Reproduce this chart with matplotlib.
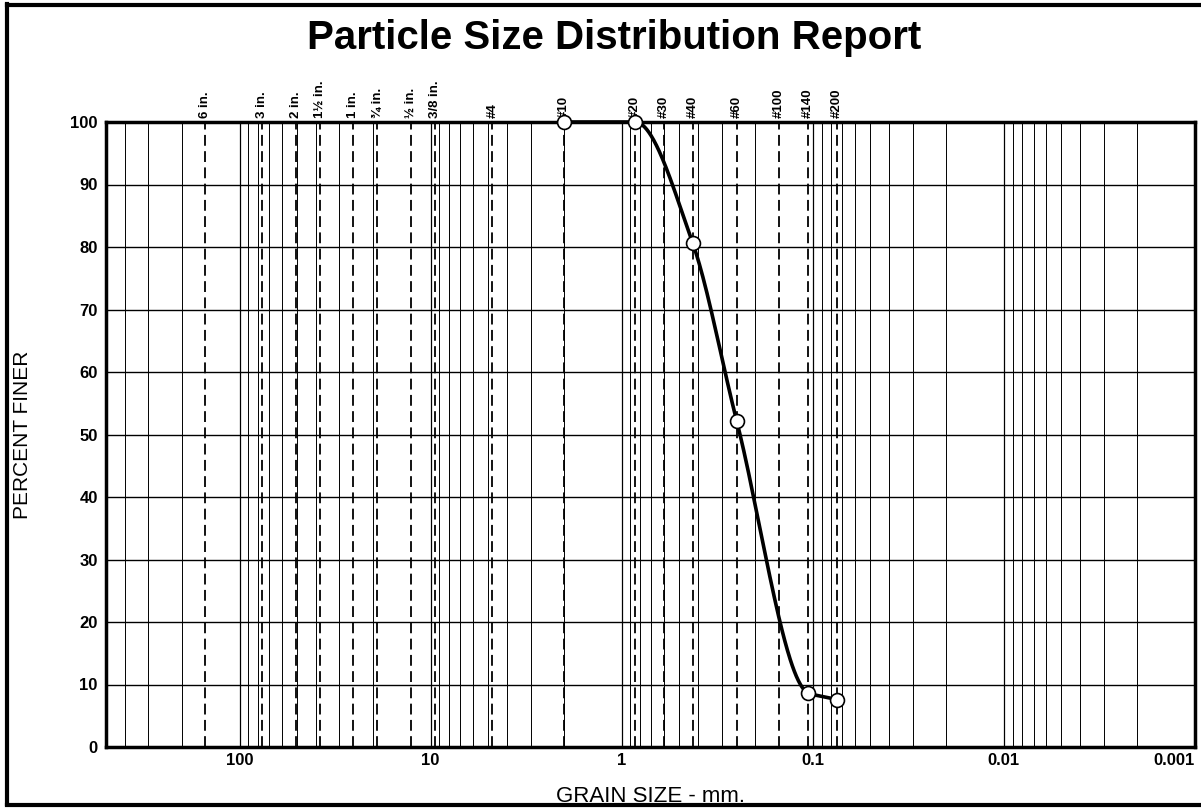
import numpy as np
import matplotlib
matplotlib.use("Agg")
import matplotlib.pyplot as plt
from matplotlib.transforms import blended_transform_factory
from matplotlib.lines import Line2D

plt.rcParams['font.family'] = ['Liberation Sans', 'DejaVu Sans']

# sieve openings (mm) and their names along the top
sieve_names = ['6 in.', '3 in.', '2 in.', '1½ in.', '1 in.', '¾ in.', '½ in.', '3/8 in.',
               '#4', '#10', '#20', '#30', '#40', '#60', '#100', '#140', '#200']
sieve_mm = [152.4, 76.2, 50.8, 38.1, 25.4, 19.05, 12.7, 9.525,
            4.75, 2.0, 0.85, 0.6, 0.425, 0.25, 0.15, 0.106, 0.075]

# test results
grain_mm = [2.0, 0.85, 0.425, 0.25, 0.106, 0.075]
pct_finer = [100.0, 100.0, 80.6, 52.1, 8.7, 7.6]

x_ticks = [100, 10, 1, 0.1, 0.01, 0.001]
x_ticklabels = ['100', '10', '1', '0.1', '0.01', '0.001']
y_ticks = list(range(0, 101, 10))


def pchip(xk, yk, xs):
    # monotone cubic (Fritsch-Carlson) for the smooth gradation curve
    xk = np.asarray(xk, float); yk = np.asarray(yk, float)
    h = np.diff(xk); d = np.diff(yk) / h
    m = np.zeros_like(yk)
    for i in range(1, len(xk) - 1):
        if d[i-1] * d[i] > 0:
            w1 = 2*h[i] + h[i-1]; w2 = h[i] + 2*h[i-1]
            m[i] = (w1 + w2) / (w1/d[i-1] + w2/d[i])
    m[0] = d[0]; m[-1] = d[-1]
    out = np.empty_like(xs)
    for j, x in enumerate(xs):
        i = min(max(np.searchsorted(xk, x) - 1, 0), len(h) - 1)
        t = (x - xk[i]) / h[i]
        h00 = 2*t**3 - 3*t**2 + 1; h10 = t**3 - 2*t**2 + t
        h01 = -2*t**3 + 3*t**2; h11 = t**3 - t**2
        out[j] = h00*yk[i] + h10*h[i]*m[i] + h01*yk[i+1] + h11*h[i]*m[i+1]
    return out


fig = plt.figure(figsize=(12.01, 8.08), dpi=100)
ax = fig.add_axes([106/1201, 1 - 747/808, (1195-106)/1201, (747-122)/808])

ax.set_xscale('log')
ax.set_xlim(500, 0.001)
ax.set_ylim(0, 100)

# log grid: every 1..9 within each decade
for e in range(-3, 3):
    for k in range(1, 10):
        v = k * 10.0**e
        if 0.001 < v < 500:
            ax.axvline(v, color='black', lw=0.9 if k == 1 else 0.7, zorder=1)
for yv in y_ticks[1:-1]:
    ax.axhline(yv, color='black', lw=1.0, zorder=1)

# sieve lines
trans = blended_transform_factory(ax.transData, ax.transAxes)
for name, mm in zip(sieve_names, sieve_mm):
    ax.axvline(mm, color='black', lw=1.3, ls=(0, (6, 3)), zorder=2)
    ax.text(mm, 1.006, name, transform=trans, rotation=90, ha='center', va='bottom',
            fontsize=9.5, fontweight='bold')

# gradation curve
u = np.log10(grain_mm)[::-1]
p = np.array(pct_finer)[::-1]
us = np.linspace(u[0], u[-1], 400)
ax.plot(10**us, pchip(u, p, us), color='black', lw=2.6, zorder=4, clip_on=False)
ax.plot(grain_mm, pct_finer, 'o', ms=10, mfc='white', mec='black', mew=1.2, zorder=5,
        clip_on=False)

ax.set_xticks(x_ticks)
ax.set_xticklabels(x_ticklabels, fontsize=12, fontweight='bold')
ax.get_xticklabels()[-1].set_horizontalalignment('right')
ax.xaxis.set_minor_locator(plt.NullLocator())
ax.set_yticks(y_ticks)
ax.set_yticklabels([str(v) for v in y_ticks], fontsize=12, fontweight='bold')
ax.tick_params(axis='both', length=0, pad=4)
ax.tick_params(axis='y', pad=6)
for s in ax.spines.values():
    s.set_linewidth(2.5)

ax.set_ylabel('PERCENT FINER', fontsize=15, va='center')
ax.yaxis.set_label_coords(-(106 - 23) / 1089, 0.5)
ax.set_xlabel('GRAIN SIZE - mm.', fontsize=16, va='center')
ax.xaxis.set_label_coords((650 - 106) / 1089, -(796 - 747) / 625)

fig.text(0.511, 1 - 38/808, 'Particle Size Distribution Report', ha='center', va='center',
         fontsize=29, fontweight='bold')

# page frame
fig.add_artist(Line2D([7/1201, 7/1201], [1 - 4/808, 1 - 804/808], color='black', lw=3,
                      transform=fig.transFigure))
fig.add_artist(Line2D([7/1201, 1], [1 - 5/808, 1 - 5/808], color='black', lw=3,
                      transform=fig.transFigure))
fig.add_artist(Line2D([7/1201, 1], [1 - 805/808, 1 - 805/808], color='black', lw=3,
                      transform=fig.transFigure))

fig.savefig('out.png', dpi=100)
